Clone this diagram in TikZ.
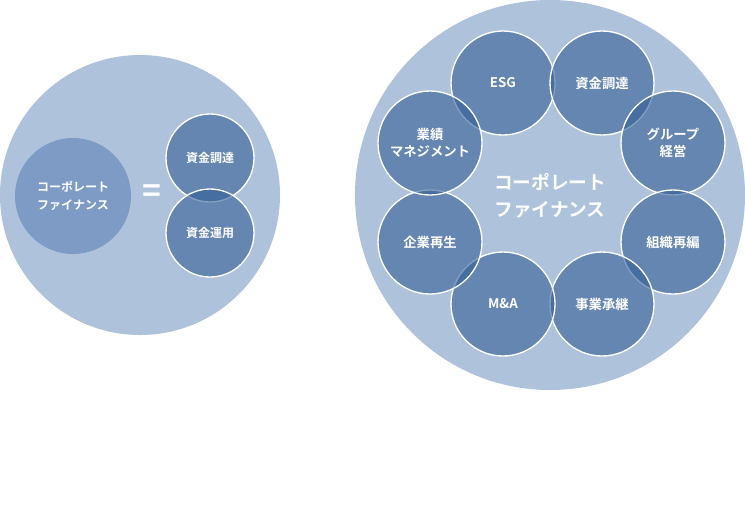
\documentclass[tikz,border=0pt]{standalone}
\usepackage{fontspec}
\setmainfont{Noto Sans CJK JP}[BoldFont={Noto Sans CJK JP Bold}]
\definecolor{bgc}{RGB}{174,194,219}
\definecolor{sc}{RGB}{51,94,150}
\definecolor{inc}{RGB}{125,155,196}
\begin{document}
\begin{tikzpicture}[x=0.75pt,y=-0.75pt,
  big/.style={circle,fill=bgc,inner sep=0},
  sm/.style={circle,draw=white,line width=1pt,fill=sc,fill opacity=0.6,text opacity=1,text=white,minimum size=78pt,inner sep=0,align=center,font=\bfseries\fontsize{10}{13}\selectfont},
  lsm/.style={sm,minimum size=66pt,font=\bfseries\fontsize{9}{12}\selectfont}]
\useasboundingbox (0,0) rectangle (745,508);
\node[big,minimum size=210pt] (L) at (140,195) {};
\node[circle,fill=inc,minimum size=87pt,inner sep=0,text=white,align=center,font=\bfseries\fontsize{9}{13}\selectfont] (LC) at (73,196) {コーポレート\\ファイナンス};
\node[text=white,font=\bfseries\fontsize{24}{24}\selectfont] (eq) at (152,194) {=};
\node[lsm] (a1) at (210,158) {資金調達};
\node[lsm] (a2) at (210,233) {資金運用};
\node[big,minimum size=292.5pt] (R) at (550,195) {};
\node[text=white,align=center,font=\bfseries\fontsize{14}{20}\selectfont] (RC) at (550,196) {コーポレート\\ファイナンス};
\node[sm] (b1) at (503,83) {ESG};
\node[sm] (b2) at (602,83) {資金調達};
\node[sm] (b3) at (673,143) {グループ\\経営};
\node[sm] (b4) at (673,242) {組織再編};
\node[sm] (b5) at (602,304) {事業承継};
\node[sm] (b6) at (503,304) {M\&A};
\node[sm] (b7) at (430,242) {企業再生};
\node[sm] (b8) at (430,143) {業績\\マネジメント};
\end{tikzpicture}
\end{document}
